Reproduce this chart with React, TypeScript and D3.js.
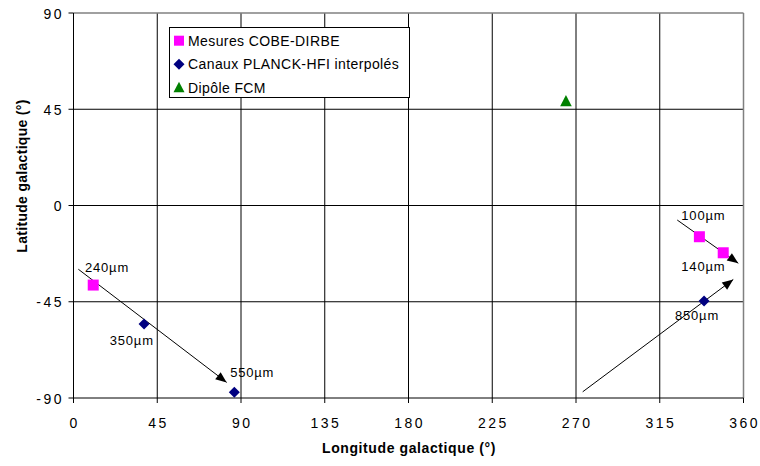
import React from "react";
import * as d3 from "d3";

const xTicks = [0, 45, 90, 135, 180, 225, 270, 315, 360];
const yTicks = [-90, -45, 0, 45, 90];

const cobeLabels = ["240µm", "100µm", "140µm"];
const cobeLon = [10.6, 336.3, 349.1];
const cobeLat = [-37.2, -14.6, -22.1];

const planckLabels = ["350µm", "550µm", "850µm"];
const planckLon = [37.9, 86.4, 338.8];
const planckLat = [-55.4, -87.3, -44.6];

const dipoleLon = [264.6];
const dipoleLat = [48.9];

// annotation arrows: [lonStart, latStart, lonEnd, latEnd]
const arrowStartLon = [2.6, 324.4, 273.6];
const arrowStartLat = [-29.8, -6.8, -87.1];
const arrowEndLon = [82.3, 357.2, 354.5];
const arrowEndLat = [-82.7, -27.0, -34.6];

// label positions (data coords) for the wavelength labels
const labelText = ["240µm", "350µm", "550µm", "100µm", "140µm", "850µm"];
const labelLon = [6.2, 19.5, 84.2, 326.6, 326.6, 323.2];
const labelLat = [-31.2, -65.4, -80.4, -7.0, -30.4, -53.6];

const legendNames = ["Mesures COBE-DIRBE", "Canaux PLANCK-HFI interpolés", "Dipôle FCM"];

const FONT = "'Liberation Sans', Arial, Helvetica, sans-serif";

export default function App() {
  const W = 760, H = 466;
  const x = d3.scaleLinear().domain([0, 360]).range([73.5, 743.5]);
  const y = d3.scaleLinear().domain([-90, 90]).range([398, 13]);
  const x0 = x(0), x1 = x(360), yb = y(-90), yt = y(90);

  const diamond = (cx: number, cy: number, r: number) =>
    `M${cx},${cy - r}L${cx + r},${cy}L${cx},${cy + r}L${cx - r},${cy}Z`;
  const tri = (cx: number, cy: number, r: number) =>
    `M${cx},${cy - r}L${cx + r},${cy + r * 0.9}L${cx - r},${cy + r * 0.9}Z`;

  const arrowHead = (xs: number, ys: number, xe: number, ye: number) => {
    const ang = Math.atan2(ye - ys, xe - xs);
    const L = 11, Wd = 4.5;
    const bx = xe - L * Math.cos(ang), by = ye - L * Math.sin(ang);
    const px = -Math.sin(ang) * Wd, py = Math.cos(ang) * Wd;
    return `M${xe},${ye}L${bx + px},${by + py}L${bx - px},${by - py}Z`;
  };

  return (
    <div style={{ position: "absolute", left: 0, top: 0 }}>
      <svg width={W} height={H} style={{ display: "block", background: "#fff" }} fontFamily={FONT}>
        {/* vertical gridlines */}
        {xTicks.slice(1, -1).map((t) => (
          <line key={"gx" + t} x1={x(t)} x2={x(t)} y1={yt} y2={yb} stroke="#000" strokeWidth={1} />
        ))}
        {/* horizontal gridlines */}
        {yTicks.slice(1, -1).map((t) => (
          <line key={"gy" + t} x1={x0} x2={x1} y1={y(t)} y2={y(t)} stroke="#000" strokeWidth={1} />
        ))}
        {/* plot border top/right */}
        <line x1={x0} x2={x1} y1={yt} y2={yt} stroke="#808080" strokeWidth={1.5} />
        <line x1={x1} x2={x1} y1={yt} y2={yb} stroke="#808080" strokeWidth={1.5} />
        {/* axes */}
        <line x1={x0} x2={x1} y1={yb} y2={yb} stroke="#000" strokeWidth={1} />
        <line x1={x0} x2={x0} y1={yt} y2={yb} stroke="#000" strokeWidth={1} />
        {xTicks.map((t) => (
          <g key={"xt" + t}>
            <line x1={x(t)} x2={x(t)} y1={yb} y2={yb + 5} stroke="#000" />
            <text x={x(t) + 1.2} y={428} fontSize={14} letterSpacing={2.5} textAnchor="middle" fill="#000">
              {t}
            </text>
          </g>
        ))}
        {yTicks.map((t) => (
          <g key={"yt" + t}>
            <line x1={x0 - 5} x2={x0} y1={y(t)} y2={y(t)} stroke="#000" />
            <text x={64} y={y(t) + 5.5} fontSize={14} letterSpacing={2.5} textAnchor="end" fill="#000">
              {t}
            </text>
          </g>
        ))}
        {/* axis titles */}
        <text x={409} y={453} fontSize={14} fontWeight="bold" letterSpacing={0.6} textAnchor="middle" fill="#000">
          Longitude galactique (°)
        </text>
        <text
          transform={`translate(27,176) rotate(-90)`}
          fontSize={14}
          fontWeight="bold"
          letterSpacing={0.3}
          textAnchor="middle"
          fill="#000"
        >
          Latitude galactique (°)
        </text>

        {/* arrows */}
        {arrowStartLon.map((_, i) => {
          const xs = x(arrowStartLon[i]), ys = y(arrowStartLat[i]);
          const xe = x(arrowEndLon[i]), ye = y(arrowEndLat[i]);
          return (
            <g key={"ar" + i}>
              <line x1={xs} y1={ys} x2={xe} y2={ye} stroke="#000" strokeWidth={1} />
              <path d={arrowHead(xs, ys, xe, ye)} fill="#000" />
            </g>
          );
        })}

        {/* COBE squares */}
        {cobeLon.map((lon, i) => (
          <rect key={"c" + i} x={x(lon) - 5.5} y={y(cobeLat[i]) - 5.5} width={11} height={11} fill="#FF00FF" />
        ))}
        {/* Planck diamonds */}
        {planckLon.map((lon, i) => (
          <path key={"p" + i} d={diamond(x(lon), y(planckLat[i]), 5.5)} fill="#000080" />
        ))}
        {/* dipole */}
        {dipoleLon.map((lon, i) => (
          <path key={"d" + i} d={tri(x(lon), y(dipoleLat[i]), 5.8)} fill="#008000" />
        ))}

        {/* wavelength labels */}
        {labelText.map((t, i) => (
          <text key={"l" + i} x={x(labelLon[i])} y={y(labelLat[i])} fontSize={13} letterSpacing={0.8} fill="#000">
            {t}
          </text>
        ))}

        {/* legend */}
        <rect x={169.5} y={27.5} width={240} height={70} fill="#fff" stroke="#000" strokeWidth={1} />
        {legendNames.map((n, i) => {
          const cy = 40.7 + i * 23.5;
          return (
            <g key={"lg" + i}>
              {i === 0 && <rect x={174} y={cy - 5} width={10} height={10} fill="#FF00FF" />}
              {i === 1 && <path d={diamond(179, cy, 5.5)} fill="#000080" />}
              {i === 2 && <path d={tri(179, cy - 0.5, 5.5)} fill="#008000" />}
              <text x={188} y={cy + 5} fontSize={14} letterSpacing={0.4} fill="#000">
                {n}
              </text>
            </g>
          );
        })}
      </svg>
    </div>
  );
}
